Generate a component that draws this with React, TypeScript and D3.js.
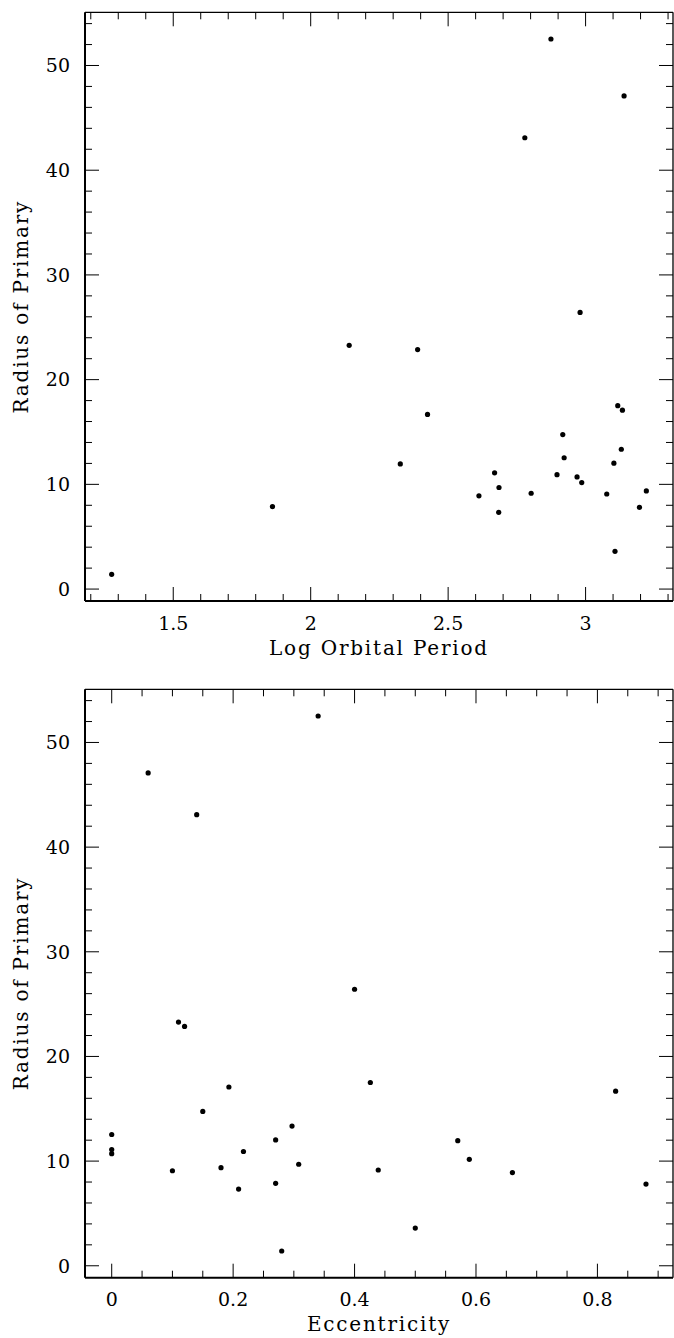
import React from "react";
import * as d3 from "d3";

// One entry per star (same order in every array)
const logPeriod = [2.874, 3.14, 2.779, 2.98, 2.14, 2.389, 3.117, 3.134, 2.425, 2.917, 3.13, 2.922, 3.103, 2.326, 2.669, 2.896, 2.969, 2.986, 2.685, 3.221, 2.802, 3.077, 2.612, 1.861, 3.196, 2.684, 3.107, 1.276];
const eccentricity = [0.34, 0.06, 0.14, 0.4, 0.11, 0.12, 0.426, 0.193, 0.83, 0.15, 0.297, 0.0, 0.27, 0.57, 0.0, 0.217, 0.0, 0.589, 0.308, 0.18, 0.439, 0.1, 0.66, 0.27, 0.88, 0.209, 0.5, 0.28];
const radius = [52.53, 47.09, 43.1, 26.42, 23.28, 22.87, 17.51, 17.08, 16.68, 14.75, 13.35, 12.54, 12.02, 11.95, 11.1, 10.92, 10.71, 10.17, 9.7, 9.37, 9.15, 9.08, 8.9, 7.88, 7.81, 7.33, 3.6, 1.41];

const yTickLabels = [0, 10, 20, 30, 40, 50];
const periodTickLabels = [1.5, 2, 2.5, 3];
const eccTickLabels = [0, 0.2, 0.4, 0.6, 0.8];

const W = 674;
const H = 1338;
const FONT = "'DejaVu Serif', serif";

type PanelProps = {
  top: number;
  bottom: number;
  xs: number[];
  ys: number[];
  xDomain: [number, number];
  majorX: number[];
  minorXStep: number;
  minorXRange: [number, number];
  xLabel: string;
  fmt: (v: number) => string;
};

function Panel({ top, bottom, xs, ys, xDomain, majorX, minorXStep, minorXRange, xLabel, fmt }: PanelProps) {
  const left = 85;
  const right = 673;
  const x = d3.scaleLinear().domain(xDomain).range([left, right]);
  const y = d3.scaleLinear().domain([-1.14, 55.08]).range([bottom, top]);
  const minorX = d3.range(minorXRange[0], minorXRange[1] + 1e-9, minorXStep).filter(
    (v) => !majorX.some((m) => Math.abs(m - v) < 1e-6)
  );
  const minorY = d3.range(0, 55, 2).filter((v) => v % 10 !== 0);
  const MAJ = 14;
  const MIN = 7;
  const cy = (top + bottom) / 2;
  const cx = (left + right) / 2;
  return (
    <g>
      {/* ticks x */}
      {majorX.map((v, i) => (
        <g key={"mx" + i} stroke="#000" strokeWidth={1}>
          <line x1={x(v)} x2={x(v)} y1={bottom} y2={bottom - MAJ} />
          <line x1={x(v)} x2={x(v)} y1={top} y2={top + MAJ} />
        </g>
      ))}
      {minorX.map((v, i) => (
        <g key={"nx" + i} stroke="#000" strokeWidth={1}>
          <line x1={x(v)} x2={x(v)} y1={bottom} y2={bottom - MIN} />
          <line x1={x(v)} x2={x(v)} y1={top} y2={top + MIN} />
        </g>
      ))}
      {yTickLabels.map((v, i) => (
        <g key={"my" + i} stroke="#000" strokeWidth={1}>
          <line x1={left} x2={left + MAJ} y1={y(v)} y2={y(v)} />
          <line x1={right} x2={right - MAJ} y1={y(v)} y2={y(v)} />
        </g>
      ))}
      {minorY.map((v, i) => (
        <g key={"ny" + i} stroke="#000" strokeWidth={1}>
          <line x1={left} x2={left + MIN} y1={y(v)} y2={y(v)} />
          <line x1={right} x2={right - MIN} y1={y(v)} y2={y(v)} />
        </g>
      ))}
      {/* frame */}
      <line x1={left} x2={left} y1={top} y2={bottom} stroke="#000" strokeWidth={2} />
      <line x1={left} x2={right} y1={bottom} y2={bottom} stroke="#000" strokeWidth={2} />
      <line x1={left} x2={right} y1={top} y2={top} stroke="#000" strokeWidth={1.3} />
      <line x1={right} x2={right} y1={top} y2={bottom} stroke="#000" strokeWidth={1.3} />
      {/* labels */}
      {majorX.map((v, i) => (
        <text key={"lx" + i} x={x(v)} y={bottom + 28.5} textAnchor="middle" fontFamily={FONT} fontSize={19}>
          {fmt(v)}
        </text>
      ))}
      {yTickLabels.map((v, i) => (
        <text key={"ly" + i} x={70} y={y(v)} dy="0.36em" textAnchor="end" fontFamily={FONT} fontSize={19}>
          {v}
        </text>
      ))}
      <text x={cx} y={bottom + 53.6} textAnchor="middle" fontFamily={FONT} fontSize={20} letterSpacing={1.8}>
        {xLabel}
      </text>
      <text
        transform={`translate(28,${cy}) rotate(-90)`}
        textAnchor="middle"
        fontFamily={FONT}
        fontSize={20}
        letterSpacing={1.8}
      >
        Radius of Primary
      </text>
      {/* points */}
      {xs.map((v, i) => (
        <circle key={"p" + i} cx={x(v)} cy={y(ys[i])} r={2.6} fill="#000" />
      ))}
    </g>
  );
}

export default function App() {
  return (
    <svg
      width={W}
      height={H}
      viewBox={`0 0 ${W} ${H}`}
      style={{ position: "absolute", left: 0, top: 0, display: "block", background: "#fff" }}
    >
      <rect width={W} height={H} fill="#fff" />
      <Panel
        top={12.3}
        bottom={601}
        xs={logPeriod}
        ys={radius}
        xDomain={[1.179, 3.318]}
        majorX={periodTickLabels}
        minorXStep={0.1}
        minorXRange={[1.2, 3.3]}
        xLabel="Log Orbital Period"
        fmt={(v) => String(v)}
      />
      <Panel
        top={689.3}
        bottom={1277.7}
        xs={eccentricity}
        ys={radius}
        xDomain={[-0.044, 0.9245]}
        majorX={eccTickLabels}
        minorXStep={0.05}
        minorXRange={[0, 0.9]}
        xLabel="Eccentricity"
        fmt={(v) => String(v)}
      />
    </svg>
  );
}
